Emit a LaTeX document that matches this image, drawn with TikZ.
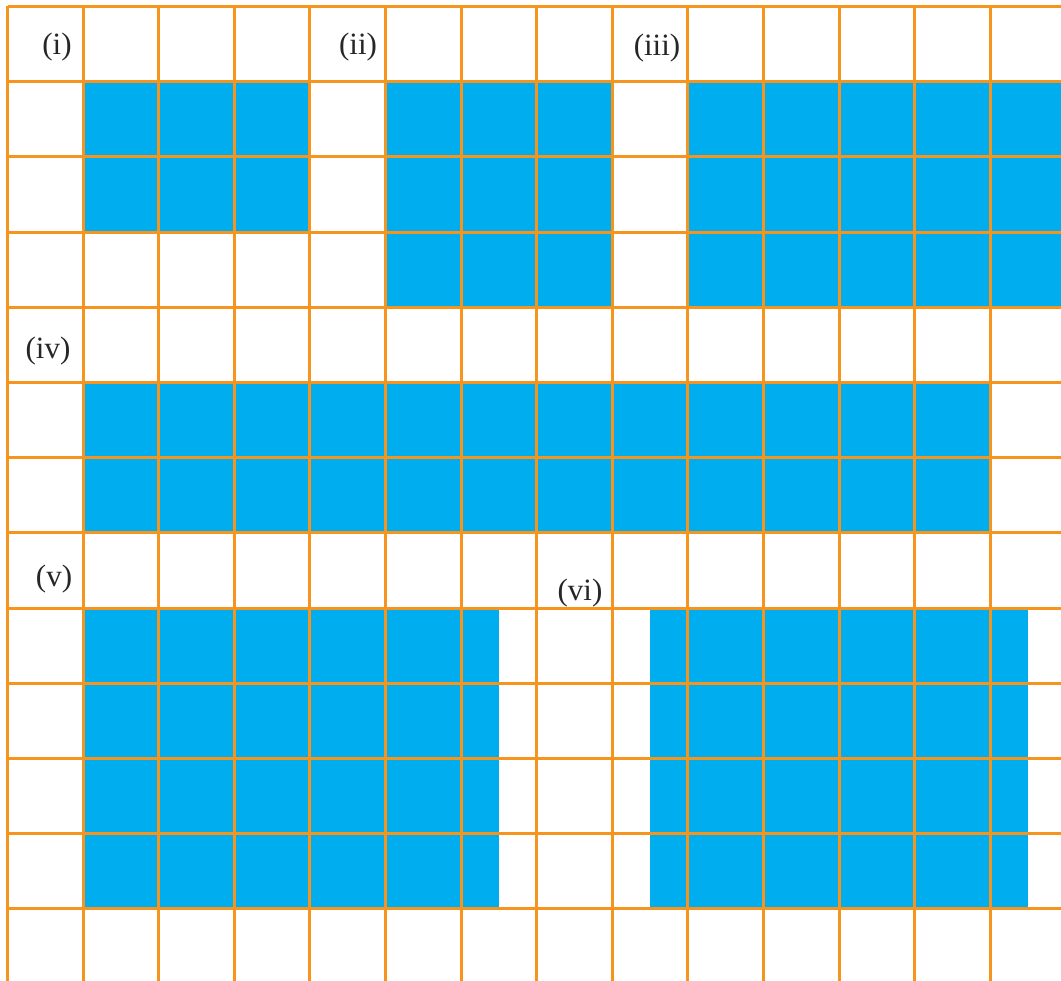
\documentclass[tikz,border=0pt]{standalone}
\usepackage{fontspec}
\setmainfont{Liberation Serif}
\definecolor{gridorange}{HTML}{F7941D}
\definecolor{fillblue}{HTML}{00ADEE}
\begin{document}
\begin{tikzpicture}[x=1pt,y=-1pt,
  gridline/.style={draw=gridorange,line width=3pt},
  shade/.style={fill=fillblue},
  lab/.style={inner sep=0pt,font=\fontsize{31}{31}\selectfont,text=black!85}]
\useasboundingbox (0,0) rectangle (1061,981);
\def\X#1{\fpeval{7.5+75.6*(#1)}}
\def\Y#1{\fpeval{6.5+75.2*(#1)}}
% blue regions
\fill[shade] (\X{1},\Y{1}) rectangle (\X{4},\Y{3});
\fill[shade] (\X{5},\Y{1}) rectangle (\X{8},\Y{4});
\fill[shade] (\X{9},\Y{1}) rectangle (1061,\Y{4});
\fill[shade] (\X{1},\Y{5}) rectangle (\X{13},\Y{7});
\fill[shade] (\X{1},\Y{8}) rectangle (\X{6.5},\Y{12});
\fill[shade] (\X{8.5},\Y{8}) rectangle (\X{13.5},\Y{12});
% grid
\foreach \k in {0,...,13} \draw[gridline] (\X{\k},\Y{0}) -- (\X{\k},981);
\foreach \k in {0,...,12} \draw[gridline] (\X{0},\Y{\k}) -- (1061,\Y{\k});
% labels
\node[lab] (l1) at (57,47) {(i)};
\node[lab] (l2) at (358,47) {(ii)};
\node[lab] (l3) at (657,48) {(iii)};
\node[lab] (l4) at (48,351) {(iv)};
\node[lab] (l5) at (54,579) {(v)};
\node[lab] (l6) at (580,593) {(vi)};
\end{tikzpicture}
\end{document}
